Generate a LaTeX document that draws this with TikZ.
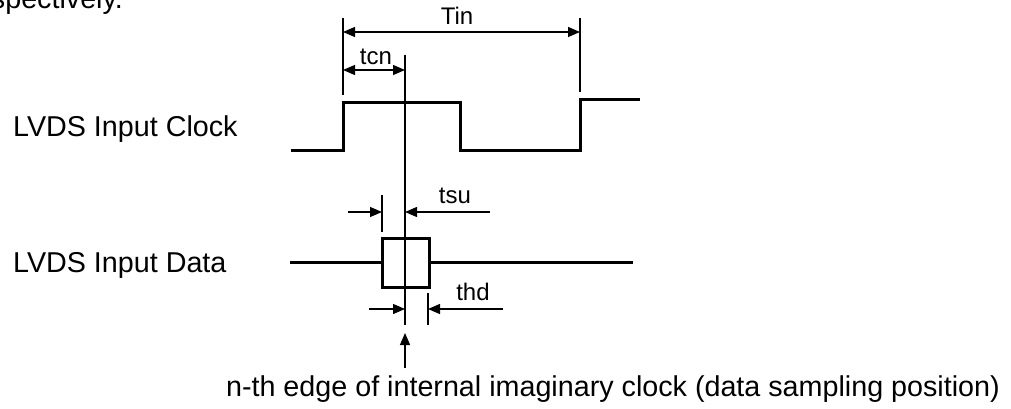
\documentclass[tikz,border=0pt]{standalone}
\usepackage{fontspec}
\setmainfont{Liberation Sans}
\usetikzlibrary{arrows.meta}

\tikzset{
    wave/.style={line width=3pt},
    dimline/.style={line width=1.3pt},
    dimtip/.style={dimline,-{Triangle[length=12pt,width=10pt]}},
    dimboth/.style={dimline,{Triangle[length=12pt,width=10pt]}-{Triangle[length=12pt,width=10pt]}},
    biglabel/.style={font=\fontsize{28.7}{34}\selectfont,inner sep=0pt},
    smalllabel/.style={font=\fontsize{24}{28}\selectfont,inner sep=0pt,anchor=base},
}

\begin{document}
\begin{tikzpicture}[x=1pt,y=-1pt]

    \useasboundingbox (0,0) rectangle (1011,409);

    \node[biglabel,anchor=base east] (prev text) at (123,9) {spectively.};
    \node[biglabel,anchor=base west] (clock label) at (13,136) {LVDS Input Clock};
    \node[biglabel,anchor=base west] (data label) at (13,272) {LVDS Input Data};

    % clock
    \coordinate (clk start) at (291,150);
    \coordinate (clk rise) at (343,103);
    \coordinate (clk fall) at (460,150);
    \coordinate (clk rise2) at (580,100);
    \coordinate (clk end) at (640,100);
    \draw[wave] (clk start) -| (clk rise) -| (clk fall) -| (clk rise2) -- (clk end);

    % data
    \node[draw,wave,minimum width=47pt,minimum height=49pt,inner sep=0pt] (window) at (405.5,262.5) {};
    \coordinate (data start) at (290,262.5);
    \coordinate (data end) at (633,262.5);
    \draw[wave] (data start) -- (window.west);
    \draw[wave] (window.east) -- (data end);

    % sampling line
    \coordinate (sample top) at (405,55);
    \coordinate (sample bottom) at (405,325);
    \draw[dimline] (sample top) -- (sample bottom);

    % Tin
    \coordinate (tin left top) at (343,18);
    \coordinate (tin left bottom) at (343,95);
    \coordinate (tin right top) at (580,18);
    \coordinate (tin right bottom) at (580,92);
    \draw[dimline] (tin left top) -- (tin left bottom);
    \draw[dimline] (tin right top) -- (tin right bottom);
    \draw[dimboth] (343,32) -- (580,32);
    \node[smalllabel] (tin) at (457,25) {Tin};

    % tcn
    \draw[dimboth] (343,70) -- (405,70);
    \node[smalllabel] (tcn) at (376,65) {tcn};

    % tsu
    \coordinate (tsu top) at (382,195);
    \coordinate (tsu bottom) at (382,232);
    \draw[dimline] (tsu top) -- (tsu bottom);
    \draw[dimtip] (348,212) -- (382,212);
    \draw[dimtip] (490,212) -- (405,212);
    \node[smalllabel] (tsu) at (455,203) {tsu};

    % thd
    \coordinate (thd top) at (428,293);
    \coordinate (thd bottom) at (428,325);
    \draw[dimline] (thd top) -- (thd bottom);
    \draw[dimtip] (369,309) -- (405,309);
    \draw[dimtip] (503,309) -- (428,309);
    \node[smalllabel] (thd) at (473,300) {thd};

    % sampling position
    \node[biglabel,anchor=base east] (sampling) at (1000,396) {n-th edge of internal imaginary clock (data sampling position)};
    \coordinate (edge tail) at (405,368);
    \coordinate (edge head) at (405,333);
    \draw[dimtip] (edge tail) -- (edge head);

\end{tikzpicture}
\end{document}
